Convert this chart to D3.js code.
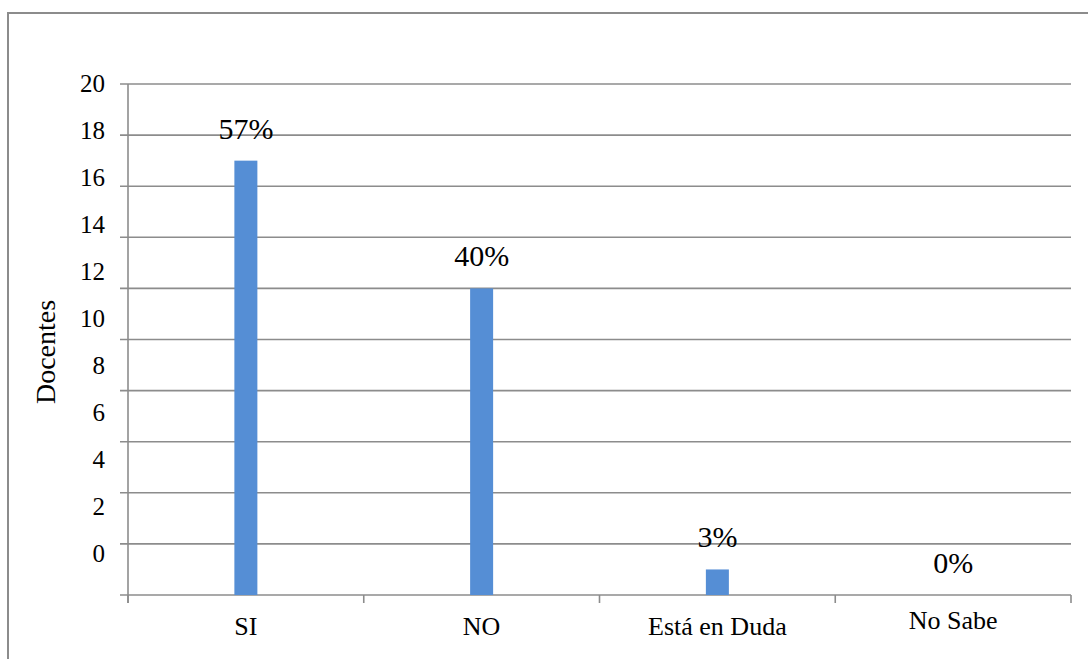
<!DOCTYPE html>
<html><head><meta charset="utf-8">
<script src="https://cdn.jsdelivr.net/npm/d3@7"></script>
<style>
html,body{margin:0;padding:0;background:#fff;}
svg{display:block;}
</style></head>
<body>
<script>
const categories = ["SI", "NO", "Está en Duda", "No Sabe"];
const values = [17, 12, 1, 0];
const percentLabels = ["57%", "40%", "3%", "0%"];
const yTicks = [0, 2, 4, 6, 8, 10, 12, 14, 16, 18, 20];
const yTitle = "Docentes";

(function () {
const W = 1088, H = 659;
const FONT = "'Liberation Serif', 'Times New Roman', Times, serif";
const svg = d3.select("body").append("svg").attr("width", W).attr("height", H)
  .style("font-family", FONT);

// outer frame
svg.append("rect").attr("x", 8).attr("y", 13).attr("width", 1100).attr("height", 700)
  .attr("fill", "none").attr("stroke", "#8c8c8c").attr("stroke-width", 2);

const pLeft = 128, pRight = 1071, pTop = 84, pBottom = 595;
const x = d3.scaleBand().domain(categories).range([pLeft, pRight]);
const y = d3.scaleLinear().domain([0, 20]).range([pBottom, pTop]);
// tick labels are drawn on a slightly compressed scale, as in the original
const yLab = d3.scaleLinear().domain([0, 20]).range([553, 83]);

// gridlines
svg.append("g").selectAll("line").data(yTicks).join("line")
  .attr("x1", pLeft - 8).attr("x2", pRight)
  .attr("y1", d => y(d)).attr("y2", d => y(d))
  .attr("stroke", "#8c8c8c").attr("stroke-width", 1.6);

// y axis line
svg.append("line").attr("x1", pLeft).attr("x2", pLeft).attr("y1", pTop).attr("y2", pBottom + 8)
  .attr("stroke", "#8c8c8c").attr("stroke-width", 1.6);

// category ticks
const catEdges = categories.map(c => x(c)).concat([pRight]);
svg.append("g").selectAll("line").data(catEdges).join("line")
  .attr("x1", d => d).attr("x2", d => d).attr("y1", pBottom).attr("y2", pBottom + 8)
  .attr("stroke", "#8c8c8c").attr("stroke-width", 1.6);

// y tick labels
svg.append("g").selectAll("text").data(yTicks).join("text")
  .attr("x", 105).attr("y", d => yLab(d)).attr("dy", "0.35em")
  .attr("text-anchor", "end").attr("font-size", 25).attr("font-family", FONT).text(d => d);

// y title
svg.append("text").attr("transform", "translate(55,352) rotate(-90)")
  .attr("text-anchor", "middle").attr("font-size", 28).attr("font-family", FONT).text(yTitle);

// bars
const bw = 23;
svg.append("g").selectAll("rect").data(values).join("rect")
  .attr("x", (d, i) => x(categories[i]) + x.bandwidth() / 2 - bw / 2)
  .attr("width", bw)
  .attr("y", d => y(d)).attr("height", d => y(0) - y(d))
  .attr("fill", "#558ED5");

// data labels
svg.append("g").selectAll("text").data(values).join("text")
  .attr("x", (d, i) => x(categories[i]) + x.bandwidth() / 2)
  .attr("y", d => y(d) - 22)
  .attr("text-anchor", "middle").attr("font-size", 30).attr("font-family", FONT)
  .text((d, i) => percentLabels[i]);

// category labels
svg.append("g").selectAll("text").data(categories).join("text")
  .attr("x", d => x(d) + x.bandwidth() / 2)
  .attr("y", (d, i) => i === 3 ? 629 : 635)
  .attr("text-anchor", "middle").attr("font-size", 26).attr("font-family", FONT).text(d => d);
})();
</script>
</body></html>
